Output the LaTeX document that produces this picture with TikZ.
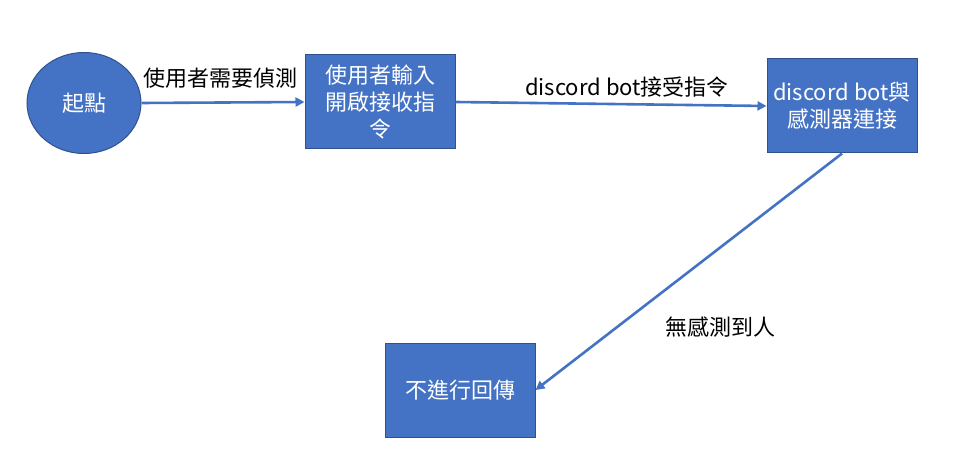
\documentclass[tikz,border=0pt]{standalone}
\usepackage{fontspec}
\setmainfont{Noto Sans CJK TC}
\usetikzlibrary{shapes.geometric,arrows.meta}
\definecolor{boxblue}{HTML}{4472C4}
\definecolor{boxedge}{HTML}{2F528F}
\tikzset{
    startnode/.style = {
        ellipse, draw=boxedge, fill=boxblue, text=white, line width=0.5pt,
        minimum width=57pt, minimum height=50.5pt, inner sep=0, font=\fontsize{11}{14}\selectfont
    },
    stepbox/.style = {
        rectangle, draw=boxedge, fill=boxblue, text=white, line width=0.5pt,
        minimum width=75pt, minimum height=47pt, inner sep=0, align=center,
        font=\fontsize{11}{13.5}\selectfont
    },
    flow/.style = {
        draw=boxblue, line width=1.3pt, -{Triangle[length=4.5pt,width=4.5pt]}
    },
    flowlabel/.style = {
        font=\fontsize{11}{13}\selectfont, inner sep=0
    }
}

\begin{document}
\begin{tikzpicture}[x=0.5pt, y=-0.5pt]
    \useasboundingbox (0,0) rectangle (974,470);
    % nodes
    \node[startnode] (start) at (84,103) {起點};
    \node[stepbox] (input) at (380,102) {使用者輸入\\開啟接收指\\令};
    \node[stepbox] (connect) at (842,106) {discord bot與\\感測器連接};
    \node[stepbox] (noreply) at (460,390) {不進行回傳};
    % connectors
    \draw[flow] (start.east) -- (input.west);
    \draw[flow] (input.east) -- (connect.west);
    \draw[flow] (connect.south) -- (noreply.east);
    % labels
    \node[flowlabel] (needlabel) at (220,78) {使用者需要偵測};
    \node[flowlabel] (cmdlabel) at (627,87) {discord bot接受指令};
    \node[flowlabel] (nonelabel) at (720,327) {無感測到人};
\end{tikzpicture}
\end{document}
